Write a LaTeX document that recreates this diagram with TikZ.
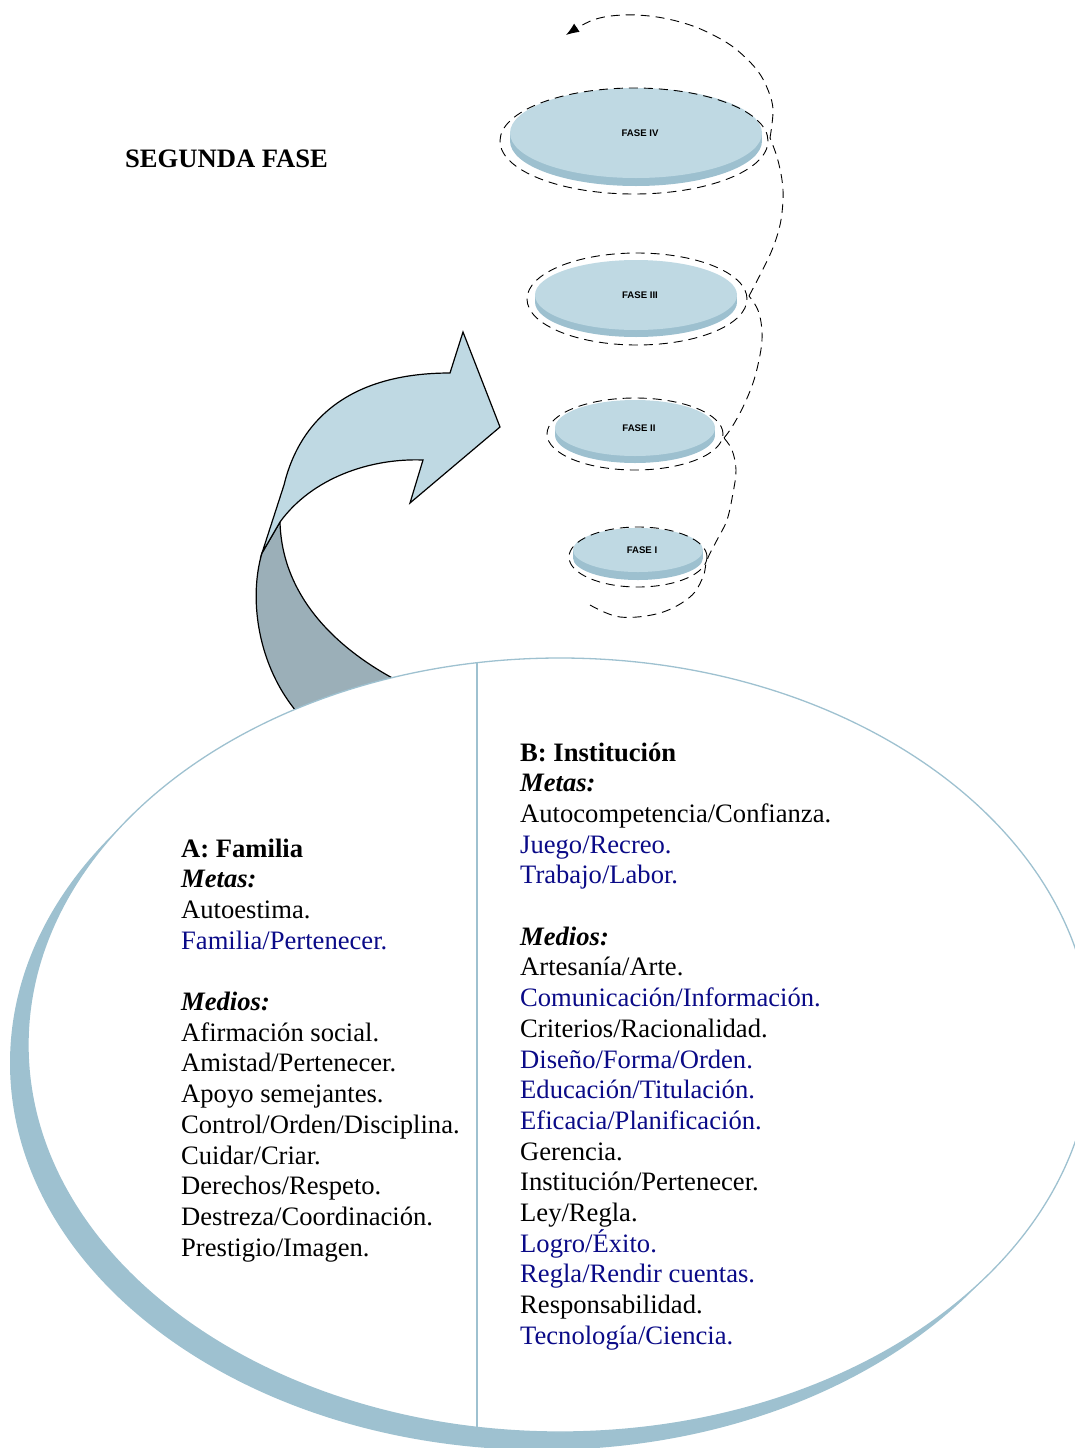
\documentclass[tikz,border=0pt]{standalone}
\usepackage{fontspec}
\setmainfont{Liberation Serif}
\newfontfamily\labelfont{Liberation Sans}
\usetikzlibrary{arrows.meta,shapes.geometric}
\definecolor{disctop}{RGB}{191,217,227}
\definecolor{discside}{RGB}{157,192,207}
\definecolor{rim}{RGB}{158,193,208}
\definecolor{shade}{RGB}{155,175,184}
\definecolor{navy}{RGB}{10,10,135}
\begin{document}
\begin{tikzpicture}[x=1pt,y=-1pt,
  spiral/.style={dash pattern=on 9pt off 6pt, line width=0.9pt},
  bodytext/.style={font=\fontsize{26.6}{30.7}\selectfont, anchor=base west, inner sep=0pt},
  phase/.style={font=\labelfont\bfseries\fontsize{9.6}{11}\selectfont, inner sep=0pt},
  ring/.style={ellipse, draw, spiral, inner sep=0pt},
  arrowline/.style={draw=black, line width=1.2pt, line join=miter},
]
\useasboundingbox (0,0) rectangle (1075,1448);

% big oval with its shadowed rim
\begin{scope}
  \clip (0,0) rectangle (1075,1448);
  \fill[rim] (542,1063) ellipse [x radius=532, y radius=387];
  % curved arrow: shaded underside (its lower end is hidden by the oval)
  \filldraw[fill=shade, arrowline]
    (262,553) .. controls (248,600) and (258,672) .. (304,720)
    -- (412,688) .. controls (342,655) and (282,600) .. (280,522) -- cycle;
  \node[ellipse, fill=white, draw=rim, line width=1.3pt,
        minimum width=1064pt, minimum height=774pt, inner sep=0pt] (oval) at (560,1045) {};
  \draw[rim, line width=1.3pt] (477,662) -- (477,1428);
\end{scope}

% curved arrow: light upper band with its head
\filldraw[fill=disctop, arrowline]
  (262,553) -- (284,485) .. controls (301,415) and (355,373) .. (450,373)
  -- (463,332) -- (500,427) -- (410,503) -- (423,460)
  .. controls (370,458) and (312,478) .. (280,522) -- cycle;

% title
\node[font=\bfseries\fontsize{26.6}{30.7}\selectfont, anchor=base west, inner sep=0pt]
  (title) at (125,167) {SEGUNDA FASE};

% phase discs: face centre, radii, thickness, label, dashed ring centre and radii
\foreach \cx/\cy/\rx/\ry/\t/\lab/\nm/\dx/\dy/\drx/\dry in {
   636/133/126/45/8/FASE IV/f4/634/141/134/53,
   636/295/101/35/7/FASE III/f3/637/299/110/46,
   635/428/80/28/7/FASE II/f2/635/434/88/36,
   638/550/65/22/8/FASE I/f1/638/557/69/30}{
  \fill[discside] (\cx,\cy+\t) ellipse [x radius=\rx, y radius=\ry];
  \fill[discside] (\cx-\rx,\cy) rectangle (\cx+\rx,\cy+\t);
  \fill[disctop] (\cx,\cy) ellipse [x radius=\rx, y radius=\ry];
  \node[phase] (\nm) at (\cx+4,\cy) {\lab};
  \node[ring, minimum width=2*\drx pt, minimum height=2*\dry pt] (r\nm) at (\dx,\dy) {};
}

% spiral rising through the phases
\draw[spiral] plot[smooth, tension=0.6] coordinates {
  (590,605) (620,617) (660,613) (690,597) (703,577) (707,560) (717,540)
  (727,520) (733,493) (736,470) (732,450) (724,438)};
\draw[spiral] plot[smooth, tension=0.6] coordinates {
  (724,438) (732,427) (743,407) (753,383) (759,360) (762,340) (761,322)
  (757,308) (749,296)};
\draw[spiral] plot[smooth, tension=0.6] coordinates {
  (749,296) (760,275) (772,250) (780,225) (783,200) (782,180) (777,157) (770,138)};
\draw[spiral, -{Latex[length=13pt,width=10pt]}] plot[smooth, tension=0.6] coordinates {
  (770,138) (773,110) (768,90) (757,70) (737,50) (717,37) (690,25) (657,17)
  (623,15) (593,20) (566,35)};

% column A
\foreach \n/\txt/\c in {
  0/{\textbf{A: Familia}}/black,
  1/{\textbf{\textit{Metas:}}}/black,
  2/{Autoestima.}/black,
  3/{Familia/Pertenecer.}/navy,
  5/{\textbf{\textit{Medios:}}}/black,
  6/{Afirmación social.}/black,
  7/{Amistad/Pertenecer.}/black,
  8/{Apoyo semejantes.}/black,
  9/{Control/Orden/Disciplina.}/black,
  10/{Cuidar/Criar.}/black,
  11/{Derechos/Respeto.}/black,
  12/{Destreza/Coordinación.}/black,
  13/{Prestigio/Imagen.}/black}{
  \node[bodytext, text=\c] (a\n) at (181,857+30.7*\n) {\txt};
}

% column B
\foreach \n/\txt/\c in {
  0/{\textbf{B: Institución}}/black,
  1/{\textbf{\textit{Metas:}}}/black,
  2/{Autocompetencia/Confianza.}/black,
  3/{Juego/Recreo.}/navy,
  4/{Trabajo/Labor.}/navy,
  6/{\textbf{\textit{Medios:}}}/black,
  7/{Artesanía/Arte.}/black,
  8/{Comunicación/Información.}/navy,
  9/{Criterios/Racionalidad.}/black,
  10/{Diseño/Forma/Orden.}/navy,
  11/{Educación/Titulación.}/navy,
  12/{Eficacia/Planificación.}/navy,
  13/{Gerencia.}/black,
  14/{Institución/Pertenecer.}/black,
  15/{Ley/Regla.}/black,
  16/{Logro/Éxito.}/navy,
  17/{Regla/Rendir cuentas.}/navy,
  18/{Responsabilidad.}/black,
  19/{Tecnología/Ciencia.}/navy}{
  \node[bodytext, text=\c] (b\n) at (520,761+30.7*\n) {\txt};
}
\end{tikzpicture}
\end{document}
